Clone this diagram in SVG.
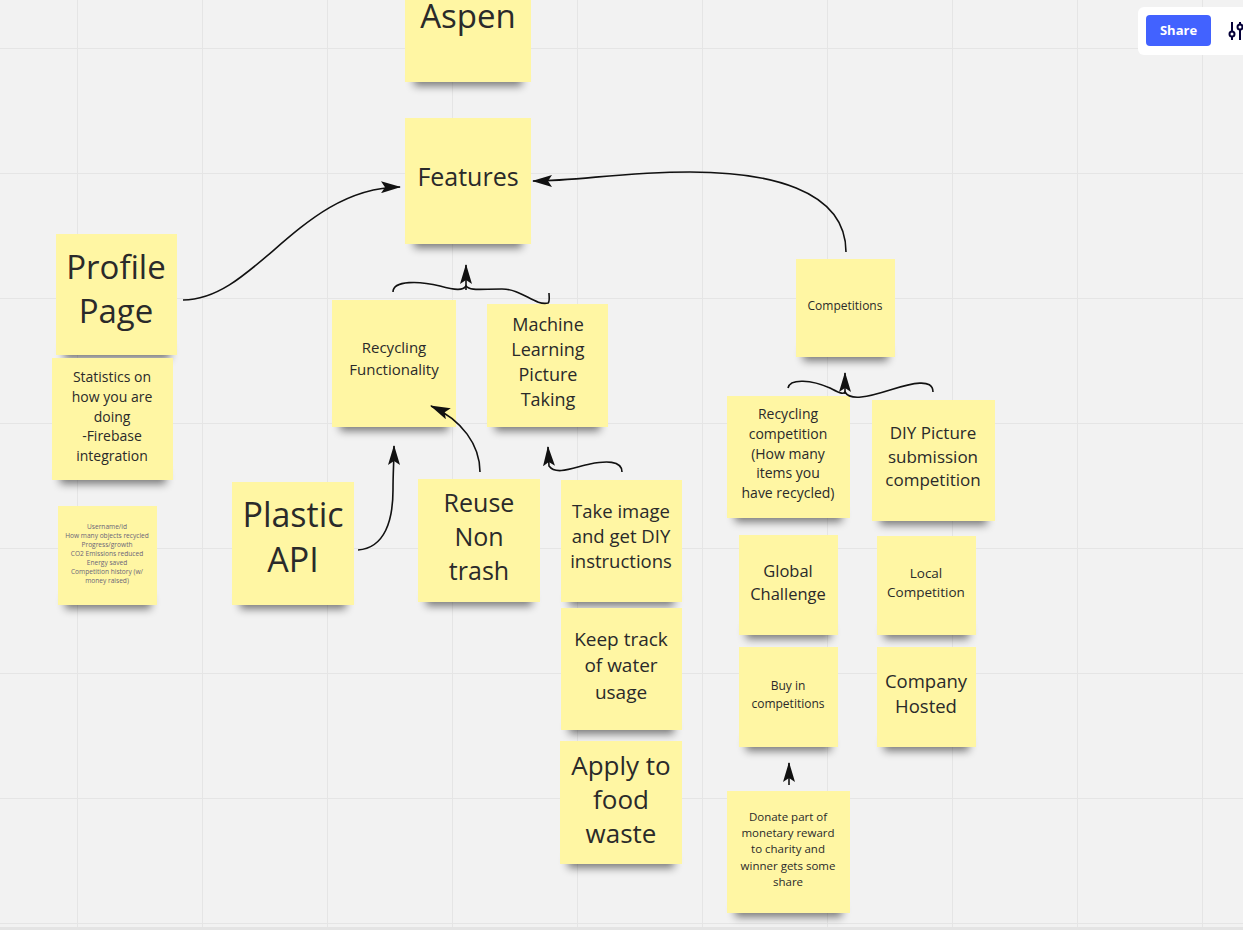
<svg xmlns="http://www.w3.org/2000/svg" width="1243" height="930" viewBox="0 0 1243 930">
<style>
.note{fill:#fff6a3}
.sh{fill:#000;opacity:.5;filter:url(#blur)}
text{font-family:"Open Sans","Liberation Sans",sans-serif;fill:#2a2a2a;text-anchor:middle}
.con{fill:none;stroke:#111;stroke-width:1.6}
.grid{stroke:#e5e5e5;stroke-width:1}
</style>
<defs>
<filter id="blur" x="-30%" y="-100%" width="160%" height="300%"><feGaussianBlur stdDeviation="4"/></filter>
<marker id="ah" markerUnits="userSpaceOnUse" viewBox="0 0 20 12" markerWidth="20" markerHeight="12" refX="19" refY="6" orient="auto"><path d="M0,0 L20,6 L0,12 L4,6 z" fill="#111"/></marker>
</defs>
<rect width="1243" height="930" fill="#f2f2f2"/>
<g id="grid" class="grid">
<path d="M77.5,0V927M202.5,0V927M327.5,0V927M452.5,0V927M577.5,0V927M702.5,0V927M827.5,0V927M952.5,0V927M1077.5,0V927M1202.5,0V927"/>
<path d="M0,48.5H1243M0,173.5H1243M0,298.5H1243M0,423.5H1243M0,548.5H1243M0,673.5H1243M0,798.5H1243M0,923.5H1243"/>
</g>
<rect x="0" y="927" width="1243" height="3" fill="#e4e4e4"/>

<g id="aspen"><rect class="sh" x="414" y="72" width="108" height="14"/><rect class="note" x="405" y="0" width="126" height="82"/><text x="468" y="28" font-size="33">Aspen</text></g>
<g id="features"><rect class="sh" x="414" y="234" width="108" height="14"/><rect class="note" x="405" y="118" width="126" height="126"/><text x="468" y="186" font-size="25">Features</text></g>
<g id="profile"><rect class="sh" x="64" y="345" width="106" height="14"/><rect class="note" x="56" y="234" width="121" height="121"/><text x="116" y="279" font-size="33">Profile</text><text x="116" y="323" font-size="33">Page</text></g>
<g id="stats"><rect class="sh" x="60" y="470" width="106" height="14"/><rect class="note" x="52" y="358" width="121" height="122"/><text font-size="14" x="112"><tspan x="112" y="382">Statistics on</tspan><tspan x="112" y="402">how you are</tspan><tspan x="112" y="422">doing</tspan><tspan x="112" y="441">-Firebase</tspan><tspan x="112" y="461">integration</tspan></text></g>
<g id="userinfo"><rect class="sh" x="65" y="595" width="86" height="14"/><rect class="note" x="58" y="506" width="99" height="99"/><text font-size="6.6" x="107" style="fill:#6a6478"><tspan x="107" y="529">Username/id</tspan><tspan x="107" y="538">How many objects recycled</tspan><tspan x="107" y="547">Progress/growth</tspan><tspan x="107" y="556">CO2 Emissions reduced</tspan><tspan x="107" y="565">Energy saved</tspan><tspan x="107" y="574">Competition history (w/</tspan><tspan x="107" y="583">money raised)</tspan></text></g>
<g id="recycling"><rect class="sh" x="340" y="417" width="108" height="14"/><rect class="note" x="332" y="300" width="124" height="127"/><text font-size="15"><tspan x="394" y="353">Recycling</tspan><tspan x="394" y="375">Functionality</tspan></text></g>
<g id="ml"><rect class="sh" x="495" y="417" width="105" height="14"/><rect class="note" x="487" y="304" width="121" height="123"/><text font-size="18"><tspan x="548" y="331">Machine</tspan><tspan x="548" y="356">Learning</tspan><tspan x="548" y="381">Picture</tspan><tspan x="548" y="406">Taking</tspan></text></g>
<g id="plastic"><rect class="sh" x="240" y="595" width="106" height="14"/><rect class="note" x="232" y="482" width="122" height="123"/><text font-size="34"><tspan x="293" y="527">Plastic</tspan><tspan x="293" y="572">API</tspan></text></g>
<g id="reuse"><rect class="sh" x="426" y="592" width="106" height="14"/><rect class="note" x="418" y="479" width="122" height="123"/><text font-size="25"><tspan x="479" y="512">Reuse</tspan><tspan x="479" y="546">Non</tspan><tspan x="479" y="580">trash</tspan></text></g>
<g id="diy"><rect class="sh" x="569" y="592" width="105" height="14"/><rect class="note" x="561" y="480" width="121" height="122"/><text font-size="18.5"><tspan x="621" y="518">Take image</tspan><tspan x="621" y="543">and get DIY</tspan><tspan x="621" y="568">instructions</tspan></text></g>
<g id="water"><rect class="sh" x="569" y="720" width="105" height="14"/><rect class="note" x="561" y="608" width="121" height="122"/><text font-size="19"><tspan x="621" y="646">Keep track</tspan><tspan x="621" y="672">of water</tspan><tspan x="621" y="699">usage</tspan></text></g>
<g id="food"><rect class="sh" x="568" y="854" width="106" height="14"/><rect class="note" x="560" y="741" width="122" height="123"/><text font-size="26"><tspan x="621" y="775">Apply to</tspan><tspan x="621" y="809">food</tspan><tspan x="621" y="843">waste</tspan></text></g>
<g id="competitions"><rect class="sh" x="803" y="347" width="85" height="14"/><rect class="note" x="796" y="259" width="99" height="98"/><text x="845" y="310" font-size="12">Competitions</text></g>
<g id="reccomp"><rect class="sh" x="735" y="508" width="107" height="14"/><rect class="note" x="727" y="396" width="123" height="122"/><text font-size="14"><tspan x="788" y="419">Recycling</tspan><tspan x="788" y="439">competition</tspan><tspan x="788" y="459">(How many</tspan><tspan x="788" y="478">items you</tspan><tspan x="788" y="498">have recycled)</tspan></text></g>
<g id="diycomp"><rect class="sh" x="880" y="511" width="107" height="14"/><rect class="note" x="872" y="400" width="123" height="121"/><text font-size="17"><tspan x="933" y="439">DIY Picture</tspan><tspan x="933" y="463">submission</tspan><tspan x="933" y="486">competition</tspan></text></g>
<g id="global"><rect class="sh" x="746" y="625" width="85" height="14"/><rect class="note" x="739" y="535" width="99" height="100"/><text font-size="16.5"><tspan x="788" y="577">Global</tspan><tspan x="788" y="600">Challenge</tspan></text></g>
<g id="local"><rect class="sh" x="884" y="625" width="85" height="14"/><rect class="note" x="877" y="536" width="99" height="99"/><text font-size="13.5"><tspan x="926" y="578">Local</tspan><tspan x="926" y="597">Competition</tspan></text></g>
<g id="buyin"><rect class="sh" x="746" y="737" width="85" height="14"/><rect class="note" x="739" y="647" width="99" height="100"/><text font-size="12"><tspan x="788" y="690">Buy in</tspan><tspan x="788" y="708">competitions</tspan></text></g>
<g id="company"><rect class="sh" x="884" y="737" width="85" height="14"/><rect class="note" x="877" y="647" width="99" height="100"/><text font-size="18.5"><tspan x="926" y="688">Company</tspan><tspan x="926" y="713">Hosted</tspan></text></g>
<g id="donate"><rect class="sh" x="735" y="903" width="107" height="14"/><rect class="note" x="727" y="791" width="123" height="122"/><text font-size="11.5"><tspan x="788" y="821">Donate part of</tspan><tspan x="788" y="837">monetary reward</tspan><tspan x="788" y="853">to charity and</tspan><tspan x="788" y="870">winner gets some</tspan><tspan x="788" y="886">share</tspan></text></g>

<g id="connectors" class="con">
<path d="M183,300 C255,300 300,188 400,187" marker-end="url(#ah)"/>
<path d="M846,252 C846,188 765,172 690,172 C620,172 580,181 533,181" marker-end="url(#ah)"/>
<path d="M393,292 C393,280 420,281 440,286 C455,290 463,291 466,286 C470,291 480,289 502,289 C522,289 535,306 548,303 C550,302 549,296 549,293"/>
<path d="M466,290 L466,265" marker-end="url(#ah)"/>
<path d="M788,388 C790,378 812,380 830,388 C838,392 843,395 845,392 C850,401 868,397 890,390 C912,383 933,378 933,392"/>
<path d="M845,394 L845,373" marker-end="url(#ah)"/>
<path d="M358,550 C385,548 393,520 393,490 C393,472 394,462 394,446" marker-end="url(#ah)"/>
<path d="M480,472 C480,445 462,420 431,406" marker-end="url(#ah)"/>
<path d="M622,472 C622,460 605,461 590,464 C575,467 556,476 549,466 L548,447" marker-end="url(#ah)"/>
<path d="M789,785 L789,763" marker-end="url(#ah)"/>
</g>

<g id="toolbar">
<rect x="1138" y="7" width="115" height="48" rx="6" fill="#ffffff"/>
<rect x="1146" y="15" width="65" height="31" rx="4" fill="#4262ff"/>
<text x="1178.5" y="35" font-size="13" font-weight="bold" style="fill:#ffffff">Share</text>
<g stroke="#050038" stroke-width="2" fill="#ffffff">
<line x1="1232" y1="22" x2="1232" y2="40"/>
<line x1="1240" y1="22" x2="1240" y2="40"/>
<circle cx="1232" cy="34" r="2.5"/>
<circle cx="1240" cy="27" r="2.5"/>
</g>
</g>
</svg>
